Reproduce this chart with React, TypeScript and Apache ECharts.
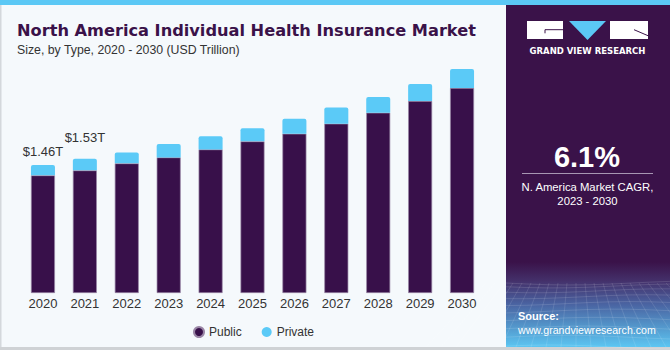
import React, { useEffect, useRef } from "react";
import * as echarts from "echarts";

const years = ["2020", "2021", "2022", "2023", "2024", "2025", "2026", "2027", "2028", "2029", "2030"];
const publicValues = [1.342, 1.399, 1.479, 1.547, 1.638, 1.730, 1.817, 1.932, 2.057, 2.190, 2.339];
const privateValues = [0.118, 0.131, 0.125, 0.153, 0.149, 0.148, 0.171, 0.183, 0.179, 0.194, 0.217];
const totalLabels = ["$1.46T", "$1.53T"];
const labelDistances = [7, 15];

const PURPLE = "#38104a";
const BLUE = "#5bcaf7";
const FONT = "'Liberation Sans', Arial, sans-serif";

function meshLines(): any[] {
  const out: any[] = [];
  const x0 = 506, x1 = 670, yTop = 283, yBot = 347;
  for (let i = 0; i < 10; i++) {
    const t = i / 9;
    const y = yTop + Math.pow(t, 1.4) * (yBot - yTop);
    const pts: number[][] = [];
    for (let k = 0; k <= 8; k++) {
      const x = x0 + (k / 8) * (x1 - x0);
      pts.push([x, y + Math.sin(k / 8 * Math.PI * 1.3 + i * 0.4) * 2]);
    }
    out.push({ type: "polyline", silent: true, shape: { points: pts }, style: { stroke: "rgba(255,255,255,0.16)", lineWidth: 0.8, fill: null } });
  }
  for (let j = 0; j < 22; j++) {
    const xt = x0 - 20 + j * 9;
    const xb = x0 - 80 + j * 15;
    out.push({ type: "line", silent: true, shape: { x1: xt, y1: yTop, x2: xb, y2: yBot }, style: { stroke: "rgba(255,255,255,0.14)", lineWidth: 0.8 } });
  }
  return out;
}

export default function App() {
  const ref = useRef<HTMLDivElement>(null);
  useEffect(() => {
    if (!ref.current) return;
    const chart = echarts.init(ref.current, null, { renderer: "svg" });
    const privateData = privateValues.map((v, i) =>
      i < totalLabels.length
        ? {
            value: v,
            label: {
              show: true,
              position: "top",
              distance: labelDistances[i],
              formatter: totalLabels[i],
              fontSize: 13,
              color: "#333333",
              fontFamily: FONT,
            },
          }
        : v
    );
    const option: any = {
      animation: false,
      backgroundColor: "#f5f9fc",
      grid: { left: 22, right: 187, top: 30, bottom: 57 },
      xAxis: {
        type: "category",
        data: years,
        axisLine: { show: false },
        axisTick: { show: false },
        axisLabel: { color: "#333333", fontSize: 13, fontFamily: FONT, margin: 4 },
      },
      yAxis: { type: "value", min: 0, max: 3, show: false, splitLine: { show: false } },
      legend: {
        data: ["Public", "Private"],
        left: 188,
        top: 321,
        icon: "circle",
        itemWidth: 10,
        itemHeight: 10,
        itemGap: 20,
        textStyle: { color: "#333333", fontSize: 12, fontFamily: FONT },
      },
      series: [
        {
          name: "Public",
          type: "bar",
          stack: "total",
          barWidth: 24,
          data: publicValues,
          itemStyle: { color: PURPLE, borderColor: "#9a86a6", borderWidth: 0.7 },
        },
        {
          name: "Private",
          type: "bar",
          stack: "total",
          barWidth: 24,
          data: privateData,
          itemStyle: { color: BLUE, borderRadius: [2, 2, 0, 0] },
        },
      ],
      graphic: [
        { type: "rect", silent: true, z: -1, shape: { x: 0, y: 0, width: 670, height: 5 }, style: { fill: "#5bc8f5" } },
        { type: "rect", silent: true, shape: { x: 0, y: 5, width: 1.5, height: 345 }, style: { fill: "#d4d8dc" } },
        { type: "rect", silent: true, shape: { x: 0, y: 347, width: 670, height: 3 }, style: { fill: "#cfd2d5" } },
        { type: "text", silent: true, style: { x: 17, y: 30, text: "North America Individual Health Insurance Market", fill: "#3a1249", font: "bold 16.2px 'DejaVu Sans', sans-serif", verticalAlign: "middle" } },
        { type: "text", silent: true, style: { x: 17, y: 50, text: "Size, by Type, 2020 - 2030 (USD Trillion)", fill: "#333333", font: "12.3px " + FONT, verticalAlign: "middle" } },
        { type: "rect", silent: true, shape: { x: 506, y: 5, width: 164, height: 342 }, style: { fill: "#3a1249" } },
        {
          type: "rect", silent: true, shape: { x: 506, y: 262, width: 164, height: 85 },
          style: {
            fill: new echarts.graphic.LinearGradient(0, 0, 0, 1, [
              { offset: 0, color: "#3a1249" },
              { offset: 0.22, color: "#44306a" },
              { offset: 0.5, color: "#4a64a2" },
              { offset: 1, color: "#5cc6f2" },
            ]),
          },
        },
        ...meshLines(),
        { type: "rect", silent: true, shape: { x: 527, y: 21, width: 36, height: 18 }, style: { fill: "#ffffff" } },
        { type: "polyline", silent: true, shape: { points: [[563, 29.7], [545, 29.7], [545, 33.3]] }, style: { stroke: "#3a1249", lineWidth: 1, fill: null } },
        { type: "polygon", silent: true, shape: { points: [[569, 21], [606, 21], [587.5, 40]] }, style: { fill: "#5bc8f5" } },
        { type: "rect", silent: true, shape: { x: 610, y: 21, width: 38, height: 18 }, style: { fill: "#ffffff" } },
        { type: "line", silent: true, shape: { x1: 634, y1: 29.7, x2: 648, y2: 35.7 }, style: { stroke: "#3a1249", lineWidth: 1 } },
        { type: "text", silent: true, style: { x: 587.5, y: 51, text: "GRAND VIEW RESEARCH", fill: "#ffffff", font: "bold 8.5px 'DejaVu Sans', sans-serif", align: "center", verticalAlign: "middle" } },
        { type: "text", silent: true, style: { x: 587, y: 157, text: "6.1%", fill: "#ffffff", font: "bold 29px " + FONT, align: "center", verticalAlign: "middle" } },
        { type: "line", silent: true, shape: { x1: 522, y1: 173.5, x2: 653, y2: 173.5 }, style: { stroke: "#a796b3", lineWidth: 1 } },
        { type: "text", silent: true, style: { x: 587.5, y: 187, text: "N. America Market CAGR,", fill: "#ffffff", font: "11.3px " + FONT, align: "center", verticalAlign: "middle" } },
        { type: "text", silent: true, style: { x: 587.5, y: 201, text: "2023 - 2030", fill: "#ffffff", font: "11.3px " + FONT, align: "center", verticalAlign: "middle" } },
        { type: "text", silent: true, style: { x: 518, y: 316, text: "Source:", fill: "#ffffff", font: "bold 11px " + FONT, verticalAlign: "middle" } },
        { type: "text", silent: true, style: { x: 518, y: 330, text: "www.grandviewresearch.com", fill: "#ffffff", font: "10.6px " + FONT, verticalAlign: "middle" } },
      ],
    };
    chart.setOption(option);
    return () => chart.dispose();
  }, []);
  return (
    <div style={{ position: "fixed", left: 0, top: 0, width: 670, height: 350 }}>
      <div ref={ref} style={{ width: 670, height: 350 }} />
    </div>
  );
}
